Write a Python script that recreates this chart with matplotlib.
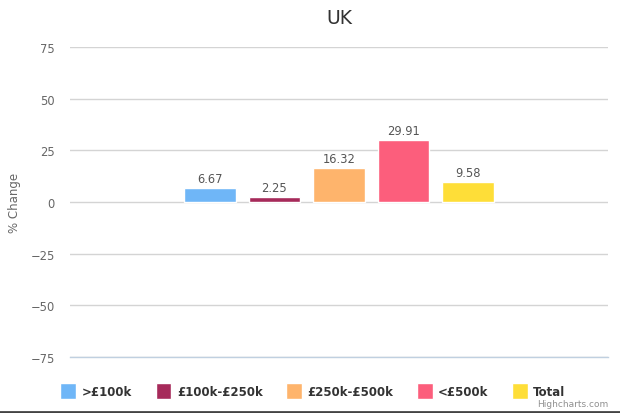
import matplotlib
matplotlib.use("Agg")
import matplotlib.pyplot as plt
from matplotlib.lines import Line2D

categories = ["UK"]
series_names = [">£100k", "£100k-£250k", "£250k-£500k", "<£500k", "Total"]
series_values = [6.67, 2.25, 16.32, 29.91, 9.58]
series_colors = ["#6fb6f7", "#a62a5a", "#feb46c", "#fc5e7c", "#fede38"]
yticks = [-75, -50, -25, 0, 25, 50, 75]

W, H = 620, 414
fig = plt.figure(figsize=(W / 100, H / 100), dpi=100)
ax = fig.add_axes([70 / W, 1 - 358 / H, 538 / W, 310 / H])

n = len(series_values)
slot = 0.6 / n
bw = slot * 0.8
handles = []
for i, (name, v, c) in enumerate(zip(series_names, series_values, series_colors)):
    x = -0.3 + slot * (i + 0.5)
    b = ax.bar(x, v, width=bw, color=c, edgecolor="white", linewidth=1, label=name, zorder=3)
    ax.text(x, v + 1.5, f"{v:.2f}", ha="center", va="bottom", fontsize=8.3, color="#555555", zorder=4)
    handles.append(b)

ax.set_xlim(-0.5, 0.5)
ax.set_ylim(-75, 75)
ax.set_yticks(yticks)
ax.set_yticklabels([f"{t}".replace("-", "−") for t in yticks], fontsize=8.3, color="#666666")
ax.set_xticks([])
ax.tick_params(axis="y", length=0, pad=11)
ax.grid(axis="y", color="#d4d4d4", linewidth=1, zorder=0)
for s in ["top", "right", "left"]:
    ax.spines[s].set_visible(False)
ax.spines["bottom"].set_color("#c0d0e0")
ax.spines["bottom"].set_linewidth(1)
ax.set_ylabel("% Change", fontsize=8.5, color="#666666")
ax.yaxis.set_label_coords((21 - 70) / 538, 0.5)

fig.text(339 / W, 1 - 18 / H, "UK", ha="center", va="center", fontsize=13.5, color="#333333")

leg = fig.legend(handles=handles, labels=series_names, loc="center", bbox_to_anchor=(313 / W, 1 - 392 / H),
                 ncol=5, frameon=False, handlelength=1.35, handleheight=1.6, handletextpad=0.45,
                 columnspacing=2.0, prop={"weight": "bold", "size": 8.5})
for t in leg.get_texts():
    t.set_color("#333333")

fig.text(608 / W, 1 - 405 / H, "Highcharts.com", ha="right", va="center", fontsize=6.5, color="#909090")
fig.add_artist(Line2D([0, 1], [1.5 / H, 1.5 / H], color="#444444", linewidth=2, transform=fig.transFigure))

fig.savefig("out.png", dpi=100, facecolor="white")
